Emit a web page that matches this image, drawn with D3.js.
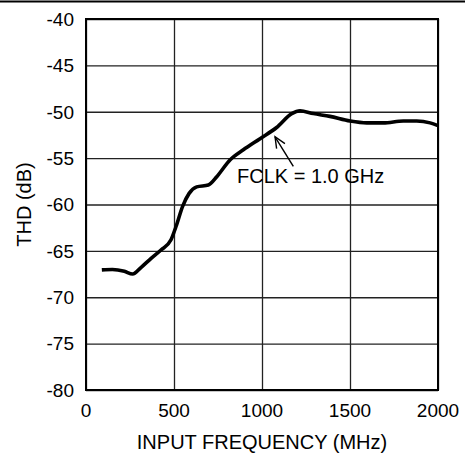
<!DOCTYPE html>
<html>
<head>
<meta charset="utf-8">
<script src="https://cdn.jsdelivr.net/npm/d3@7"></script>
<style>
  body { margin: 0; background: #fff; }
  text { font-family: Arial, "Liberation Sans", sans-serif; fill: #000; }
</style>
</head>
<body>
<script>
// curve
const freqMHz = [90, 150, 218, 265, 312, 370, 426, 483, 511, 549, 586, 629, 695, 743, 818, 894, 989, 1083, 1169, 1216, 1292, 1386, 1500, 1595, 1689, 1803, 1879, 1955, 2000];
const thdDb   = [-67.05, -67.0, -67.2, -67.5, -66.8, -65.8, -64.9, -63.8, -62.4, -60.2, -58.8, -58.1, -57.9, -57.0, -55.2, -54.1, -52.9, -51.7, -50.2, -49.9, -50.2, -50.5, -51.0, -51.2, -51.2, -51.0, -51.0, -51.2, -51.5];

const xTicks = [0, 500, 1000, 1500, 2000];
const yTicks = [-40, -45, -50, -55, -60, -65, -70, -75, -80];

const width  = 468;
const height = 454;
const margin = {top: 19, right: 30, bottom: 64, left: 86};

const svg = d3.select('body').append('svg')
  .attr('width', width)
  .attr('height', height);

// page rule at the top
svg.append('line')
  .attr('x1', 0).attr('x2', 465)
  .attr('y1', 1.5).attr('y2', 1.5)
  .attr('stroke', '#000').attr('stroke-width', 2);

const x = d3.scaleLinear().domain([0, 2000]).range([margin.left, width - margin.right]);
const y = d3.scaleLinear().domain([-80, -40]).range([height - margin.bottom, margin.top]);

// grid
svg.append('g')
  .attr('transform', 'translate(0,' + (height - margin.bottom) + ')')
  .call(d3.axisBottom(x).tickValues(xTicks).tickSize(-(height - margin.top - margin.bottom)).tickFormat(''))
  .call(g => g.select('.domain').remove())
  .selectAll('line').attr('stroke', '#222').attr('stroke-width', 1.3);

svg.append('g')
  .attr('transform', 'translate(' + margin.left + ',0)')
  .call(d3.axisLeft(y).tickValues(yTicks).tickSize(-(width - margin.left - margin.right)).tickFormat(''))
  .call(g => g.select('.domain').remove())
  .selectAll('line').attr('stroke', '#222').attr('stroke-width', 1.3);

// frame
svg.append('rect')
  .attr('x', x(0)).attr('y', y(-40))
  .attr('width', x(2000) - x(0)).attr('height', y(-80) - y(-40))
  .attr('fill', 'none').attr('stroke', '#000').attr('stroke-width', 2);

// tick labels
svg.selectAll('.xlab').data(xTicks).enter().append('text')
  .attr('class', 'xlab')
  .attr('x', d => x(d)).attr('y', y(-80) + 27)
  .attr('text-anchor', 'middle')
  .style('font-size', '19px')
  .text(d => d);

svg.selectAll('.ylab').data(yTicks).enter().append('text')
  .attr('class', 'ylab')
  .attr('x', margin.left - 12).attr('y', d => y(d))
  .attr('dy', '0.36em')
  .attr('text-anchor', 'end')
  .style('font-size', '19px')
  .text(d => d);

// axis titles
svg.append('text')
  .attr('x', (x(0) + x(2000)) / 2).attr('y', 449)
  .attr('text-anchor', 'middle')
  .style('font-size', '20px')
  .text('INPUT FREQUENCY (MHz)');

svg.append('text')
  .attr('transform', 'translate(31,' + (y(-40) + y(-80)) / 2 + ') rotate(-90)')
  .attr('text-anchor', 'middle')
  .style('font-size', '20px')
  .text('THD (dB)');

// the curve
const pts = freqMHz.map((f, i) => [f, thdDb[i]]);
const line = d3.line()
  .x(d => x(d[0]))
  .y(d => y(d[1]))
  .curve(d3.curveMonotoneX);

svg.append('path')
  .datum(pts)
  .attr('d', line)
  .attr('fill', 'none')
  .attr('stroke', '#000')
  .attr('stroke-width', 3.6)
  .attr('stroke-linecap', 'butt')
  .attr('stroke-linejoin', 'round');

// annotation
const tip  = [1074, -52.7];
const tail = [1178, -55.9];
svg.append('line')
  .attr('x1', x(tail[0])).attr('y1', y(tail[1]))
  .attr('x2', x(tip[0])).attr('y2', y(tip[1]))
  .attr('stroke', '#000').attr('stroke-width', 1.4);

const ang = Math.atan2(y(tip[1]) - y(tail[1]), x(tip[0]) - x(tail[0]));
const headLen = 12;
const spread = 0.42;
const tx = x(tip[0]), ty = y(tip[1]);
svg.append('path')
  .attr('d', 'M' + (tx - headLen * Math.cos(ang - spread)) + ',' + (ty - headLen * Math.sin(ang - spread)) +
             'L' + tx + ',' + ty +
             'L' + (tx - headLen * Math.cos(ang + spread)) + ',' + (ty - headLen * Math.sin(ang + spread)))
  .attr('fill', 'none').attr('stroke', '#000').attr('stroke-width', 1.4);

svg.append('text')
  .attr('x', x(858)).attr('y', y(-57.7))
  .style('font-size', '20px')
  .text('FCLK = 1.0 GHz');
</script>
</body>
</html>
